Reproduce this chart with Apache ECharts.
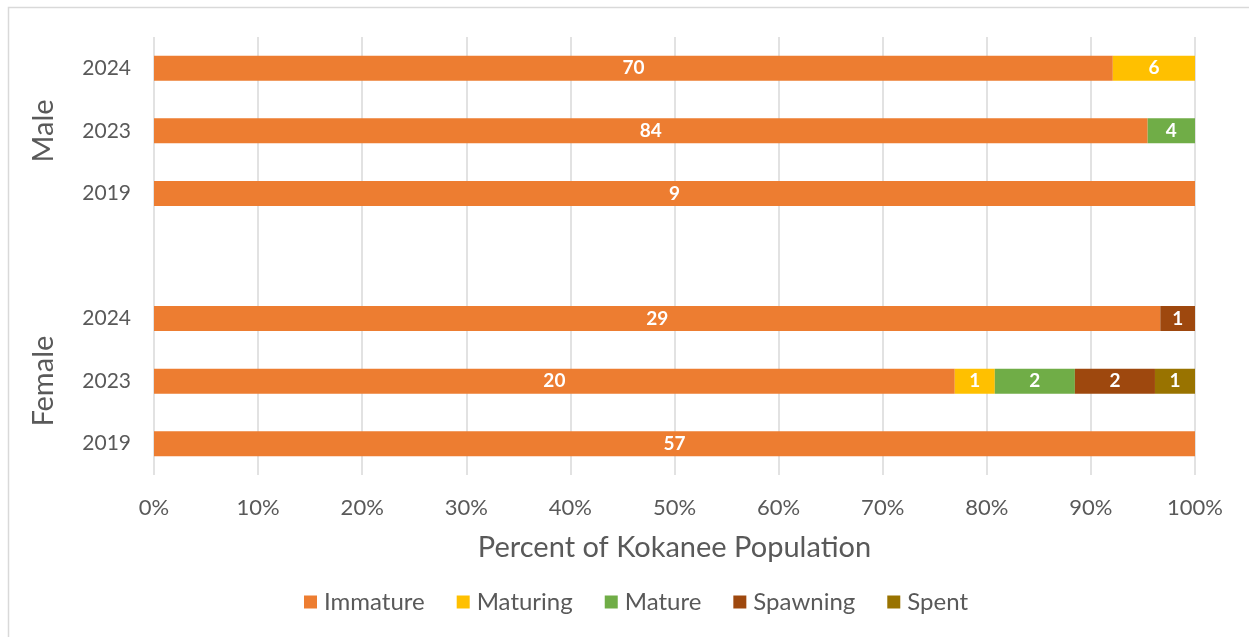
<!DOCTYPE html>
<html>
<head>
<meta charset="utf-8">
<script src="https://cdn.jsdelivr.net/npm/echarts@6/dist/echarts.min.js"></script>
<style>
  html, body { margin: 0; padding: 0; background: #fff; }
  #chart { width: 1249px; height: 637px; }
</style>
</head>
<body>
<div id="chart"></div>
<script>
// Row labels, bottom to top: Female group, blank spacer row, Male group
const yearLabels = ['2019', '2023', '2024', '', '2019', '2023', '2024'];
const groupLabels = ['', 'Female', '', '', '', 'Male', ''];
const stageNames = ['Immature', 'Maturing', 'Mature', 'Spawning', 'Spent'];
const stageColors = ['#ED7D31', '#FFC000', '#70AD47', '#9E480E', '#997300'];
const xTickLabels = ['0%', '10%', '20%', '30%', '40%', '50%', '60%', '70%', '80%', '90%', '100%'];

// Fish counts per maturity stage for each row
const immature = [57, 20, 29, null, 9, 84, 70];
const maturing = [null, 1, null, null, null, null, 6];
const mature   = [null, 2, null, null, null, 4, null];
const spawning = [null, 2, 1, null, null, null, null];
const spent    = [null, 1, null, null, null, null, null];

const counts = [immature, maturing, mature, spawning, spent];
const totals = yearLabels.map((_, i) => counts.reduce((s, arr) => s + (arr[i] || 0), 0));

const FONT = 'Lato, "Open Sans", sans-serif';

const series = counts.map((arr, k) => ({
  name: stageNames[k],
  type: 'bar',
  stack: 'pct',
  barWidth: 25,
  itemStyle: { color: stageColors[k] },
  label: {
    show: true,
    position: 'inside',
    color: '#fff',
    fontFamily: FONT,
    fontSize: 19,
    fontWeight: 'bold',
    formatter: p => (arr[p.dataIndex] == null ? '' : String(arr[p.dataIndex]))
  },
  data: arr.map((v, i) => (v == null ? null : { value: v / totals[i] * 100 }))
}));

const chart = echarts.init(document.getElementById('chart'), null, { renderer: 'canvas' });
chart.setOption({
  animation: false,
  textStyle: { fontFamily: FONT },
  graphic: [{
    type: 'rect',
    shape: { x: 8.5, y: 7.5, width: 1400, height: 800 },
    style: { fill: 'none', stroke: '#d9d9d9', lineWidth: 1.5 },
    silent: true
  }],
  grid: { left: 154, right: 54, top: 37, bottom: 162 },
  legend: {
    left: 299,
    top: 585,
    itemWidth: 13,
    itemHeight: 13,
    itemGap: 32,
    icon: 'rect',
    textStyle: { fontFamily: FONT, fontSize: 24, color: '#595959', padding: [0, 0, 0, 2] },
    data: stageNames
  },
  xAxis: {
    type: 'value',
    min: 0,
    max: 100,
    interval: 10,
    name: 'Percent of Kokanee Population',
    nameLocation: 'middle',
    nameGap: 58,
    nameTextStyle: { fontFamily: FONT, fontSize: 29, color: '#595959' },
    axisLine: { show: false },
    axisTick: { show: false },
    axisLabel: {
      margin: 22,
      fontFamily: FONT,
      fontSize: 22,
      color: '#595959',
      formatter: v => xTickLabels[Math.round(v / 10)]
    },
    splitLine: { show: true, lineStyle: { color: '#d9d9d9', width: 1.5 } }
  },
  yAxis: [{
    type: 'category',
    data: yearLabels,
    axisLine: { show: false },
    axisTick: { show: false },
    axisLabel: { margin: 23, fontFamily: FONT, fontSize: 21, color: '#595959' }
  }, {
    type: 'category',
    position: 'left',
    data: groupLabels,
    axisLine: { show: false },
    axisTick: { show: false },
    axisLabel: {
      interval: 0,
      rotate: 90,
      margin: 96,
      fontFamily: FONT,
      fontSize: 29,
      color: '#595959'
    }
  }],
  series: series
});
</script>
</body>
</html>
